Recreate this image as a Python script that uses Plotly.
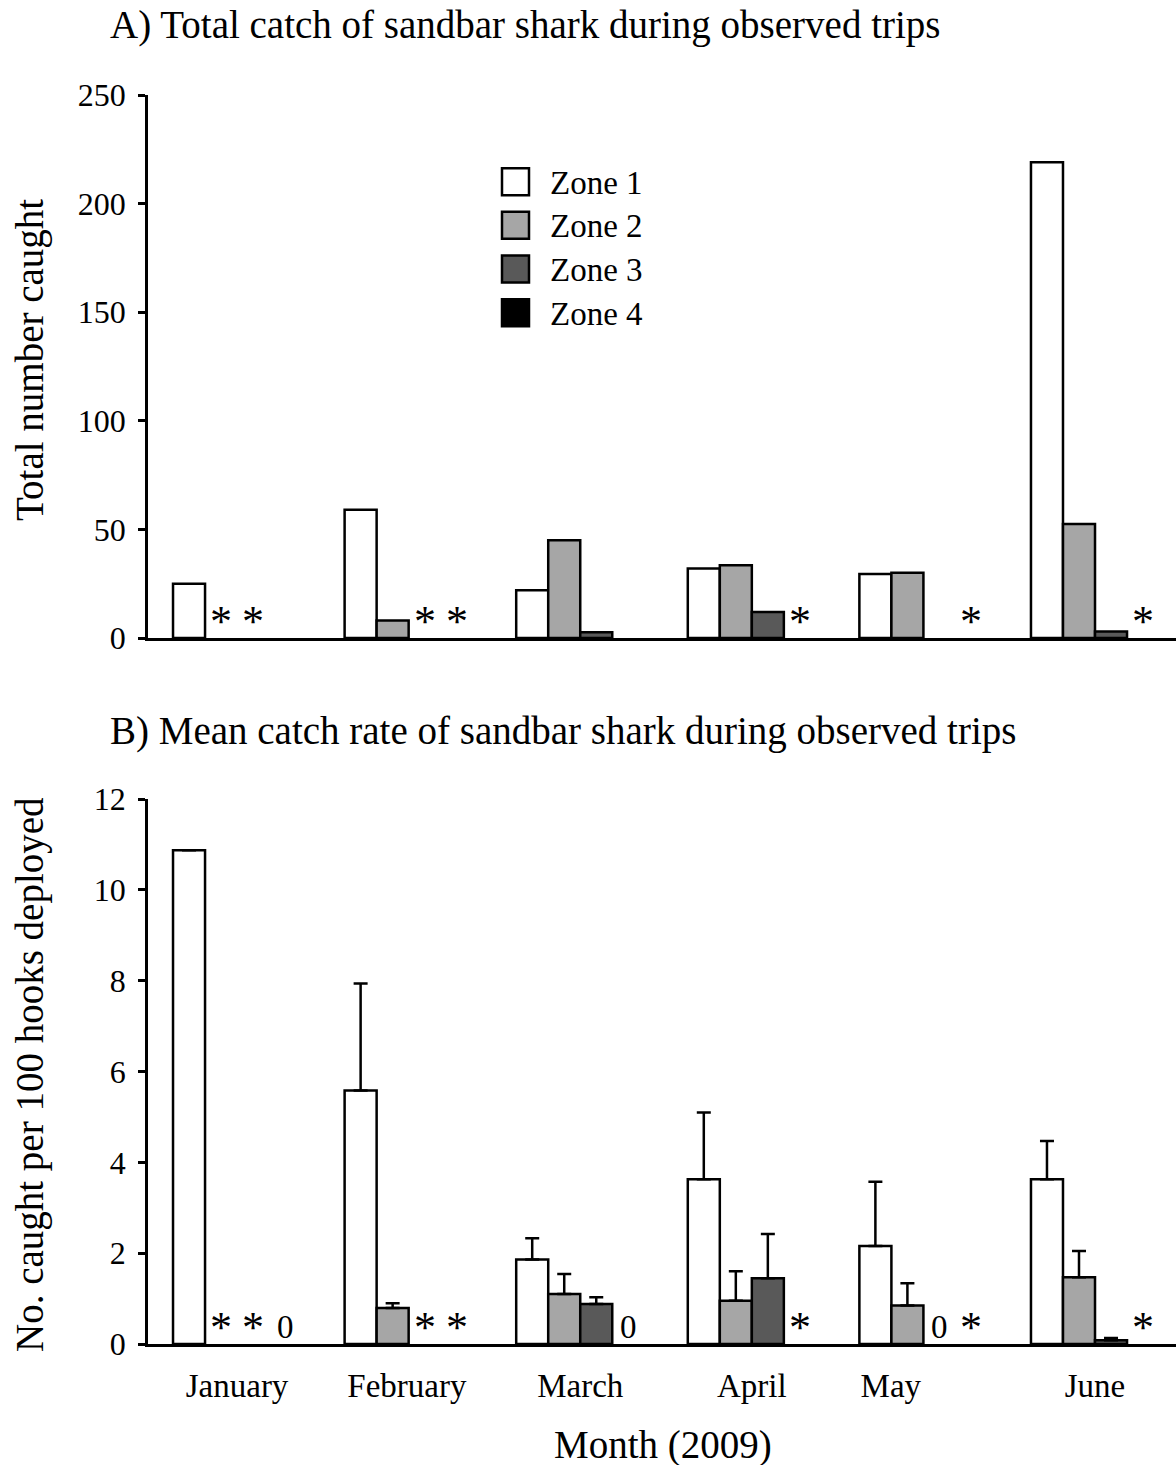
import plotly.graph_objects as go

W, H = 1176, 1465

months = ["January", "February", "March", "April", "May", "June"]
zones = ["Zone 1", "Zone 2", "Zone 3", "Zone 4"]
zone_colors = ["#ffffff", "#a6a6a6", "#595959", "#000000"]

# Panel A: total number caught
total_z1 = [25, 59, 22, 32, 29.5, 219]
total_z2 = [None, 8, 45, 33.5, 30, 52.5]
total_z3 = [None, None, 2.6, 12, None, 3]
total_z4 = [None, None, None, None, None, None]

# Panel B: mean catch rate (per 100 hooks) and upper error
rate_z1 = [10.87, 5.58, 1.86, 3.63, 2.16, 3.63]
rate_z2 = [None, 0.79, 1.10, 0.95, 0.85, 1.47]
rate_z3 = [None, None, 0.88, 1.45, None, 0.08]
rate_z4 = [None, None, None, None, None, None]
err_z1 = [0.0, 2.36, 0.47, 1.47, 1.41, 0.84]
err_z2 = [None, 0.11, 0.44, 0.65, 0.49, 0.58]
err_z3 = [None, None, 0.15, 0.97, None, 0.05]
err_z4 = [None, None, None, None, None, None]

# Markers: '*' = no data, '0' = zero catch
notes_A = [["", "*", "*", ""], ["", "", "*", "*"], ["", "", "", ""],
           ["", "", "", "*"], ["", "", "", "*"], ["", "", "", "*"]]
notes_B = [["", "*", "*", "0"], ["", "", "*", "*"], ["", "", "", "0"],
           ["", "", "", "*"], ["", "", "0", "*"], ["", "", "", "*"]]

totals = [total_z1, total_z2, total_z3, total_z4]
rates = [rate_z1, rate_z2, rate_z3, rate_z4]
errs = [err_z1, err_z2, err_z3, err_z4]

FONT = "Liberation Serif"
month_x = list(range(len(months)))
bw = 0.1866
label_shift = [0, -0.01, 0, 0, -0.19, 0]

def px(x):
    return x / W

def py(y):
    return 1 - y / H

fig = go.Figure()
for k in range(4):
    fig.add_trace(go.Bar(
        x=month_x, y=totals[k], name=zones[k], xaxis="x", yaxis="y",
        offset=(k - 2) * bw, width=bw,
        marker=dict(color=zone_colors[k], line=dict(color="black", width=2.5)),
        showlegend=False))
for k in range(4):
    fig.add_trace(go.Bar(
        x=month_x, y=rates[k], name=zones[k], xaxis="x2", yaxis="y2",
        offset=(k - 2) * bw, width=bw,
        marker=dict(color=zone_colors[k], line=dict(color="black", width=2.5)),
        error_y=dict(type="data", symmetric=False,
                     array=[e if e is not None else 0 for e in errs[k]],
                     arrayminus=[0] * len(months),
                     color="black", thickness=2.5, width=7),
        showlegend=False))

annotations = []
for notes, xr, yr in [(notes_A, "x", "y"), (notes_B, "x2", "y2")]:
    for i, row in enumerate(notes):
        for k, t in enumerate(row):
            if t:
                star = t == "*"
                annotations.append(dict(
                    x=month_x[i] + (k - 1.5) * bw, y=0, xref=xr, yref=yr,
                    text=t, showarrow=False, yanchor="bottom",
                    yshift=-10 if star else -3,
                    font=dict(family=FONT, size=44 if star else 33, color="black")))

# Titles
annotations += [
    dict(x=px(108), y=py(25), xref="paper", yref="paper", xanchor="left", yanchor="middle",
         text="A) Total catch of sandbar shark during observed trips", showarrow=False,
         font=dict(family=FONT, size=39, color="black")),
    dict(x=px(108), y=py(731), xref="paper", yref="paper", xanchor="left", yanchor="middle",
         text="B) Mean catch rate of sandbar shark during observed trips", showarrow=False,
         font=dict(family=FONT, size=39, color="black")),
    dict(x=px(30), y=py(360), xref="paper", yref="paper", xanchor="center", yanchor="middle",
         text="Total number caught", textangle=-90, showarrow=False,
         font=dict(family=FONT, size=39, color="black")),
    dict(x=px(30), y=py(1075), xref="paper", yref="paper", xanchor="center", yanchor="middle",
         text="No. caught per 100 hooks deployed", textangle=-90, showarrow=False,
         font=dict(family=FONT, size=39, color="black")),
    dict(x=px(663), y=py(1445), xref="paper", yref="paper", xanchor="center", yanchor="middle",
         text="Month (2009)", showarrow=False,
         font=dict(family=FONT, size=39, color="black")),
]

# Legend (manual)
shapes = []
leg_y = [181.7, 225.3, 269.0, 312.7]
for k in range(4):
    shapes.append(dict(type="rect", xref="paper", yref="paper",
                       x0=px(502), x1=px(529), y0=py(leg_y[k] + 13.5), y1=py(leg_y[k] - 13.5),
                       fillcolor=zone_colors[k], line=dict(color="black", width=2.5)))
    annotations.append(dict(x=px(548), y=py(leg_y[k] + 1), xref="paper", yref="paper",
                            xanchor="left", yanchor="middle", text=zones[k], showarrow=False,
                            font=dict(family=FONT, size=33, color="black")))

xr = [-0.519, 5.472]
common_x = dict(range=xr, showline=True, linecolor="black", linewidth=2.5,
                showgrid=False, zeroline=False, ticks="", fixedrange=True, automargin=False)
common_y = dict(ticks="outside", ticklen=7, tickwidth=2.5, tickcolor="black",
                showline=True, linecolor="black", linewidth=2.5, showgrid=False,
                zeroline=False, tickfont=dict(family=FONT, size=32),
                ticklabelstandoff=6, automargin=False)

fig.update_layout(
    width=W, height=H, margin=dict(l=0, r=0, t=0, b=0, pad=0, autoexpand=False),
    paper_bgcolor="white", plot_bgcolor="white",
    barmode="overlay", showlegend=False,
    font=dict(family=FONT, size=28, color="black"),
    xaxis=dict(domain=[px(148), 1], anchor="y", showticklabels=False, **common_x),
    yaxis=dict(domain=[py(638), py(95)], anchor="x", range=[0, 250],
               tickvals=[0, 50, 100, 150, 200, 250], **common_y),
    xaxis2=dict(domain=[px(148), 1], anchor="y2",
                tickvals=[m + s for m, s in zip(month_x, label_shift)], ticktext=months,
                tickfont=dict(family=FONT, size=33), ticklabelstandoff=11, **common_x),
    yaxis2=dict(domain=[py(1344), py(799)], anchor="x2", range=[0, 12],
                tickvals=[0, 2, 4, 6, 8, 10, 12], **common_y),
    annotations=annotations, shapes=shapes,
)

fig.write_html("out.html")
